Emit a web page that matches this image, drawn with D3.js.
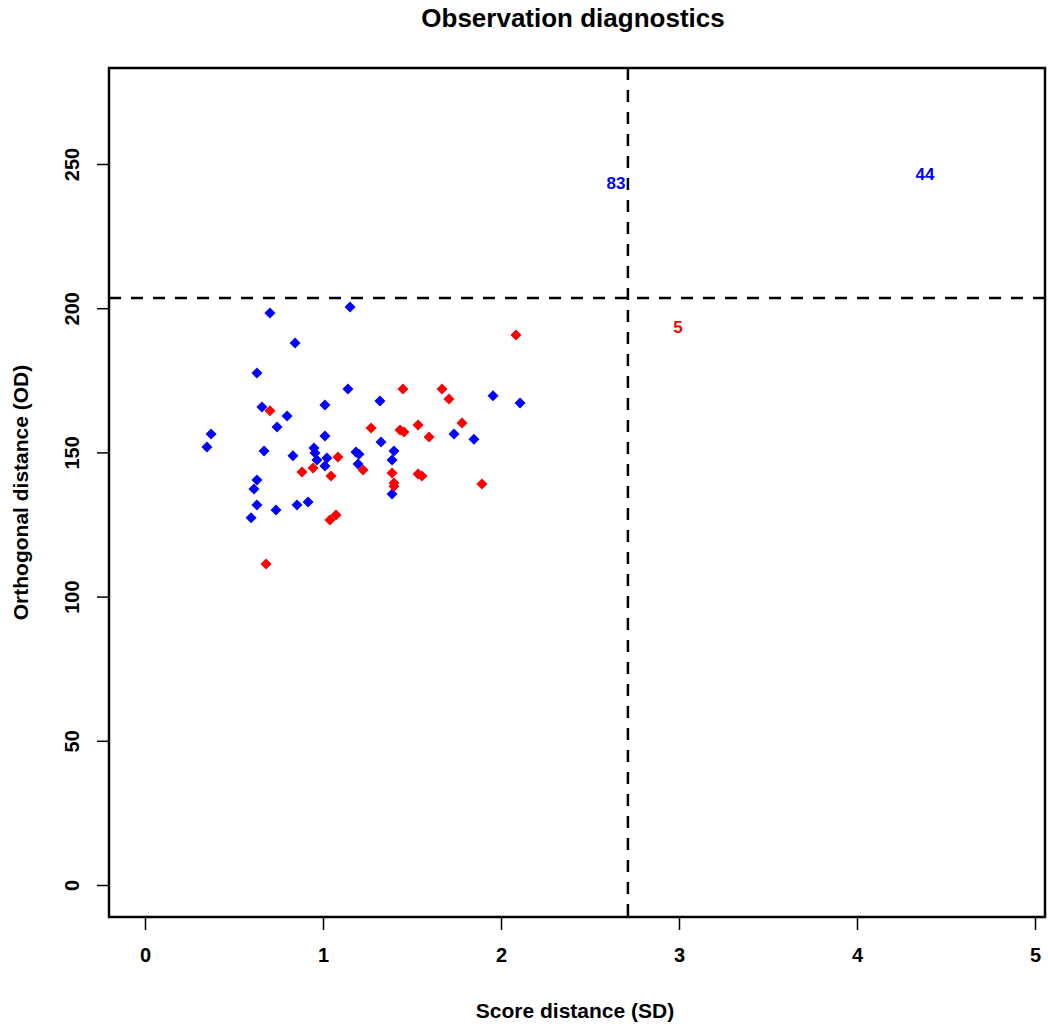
<!DOCTYPE html>
<html>
<head>
<meta charset="utf-8">
<script src="https://cdn.jsdelivr.net/npm/d3@7"></script>
<style>
  html, body { margin: 0; padding: 0; background: #fff; }
  svg { display: block; }
  text { font-family: "Liberation Sans", Arial, sans-serif; font-weight: bold; }
</style>
</head>
<body>
<div id="chart"></div>
<script>
// ---- data ----
const blueSD = [0.702,1.152,0.843,0.629,1.140,0.657,0.798,1.011,0.742,0.371,0.348,0.669,0.831,0.949,0.955,0.966,1.022,1.011,1.011,1.320,1.955,2.107,1.736,1.848,1.326,1.185,1.202,1.197,1.399,1.388,1.388,0.629,0.612,0.629,0.736,0.854,0.916,0.596];
const blueOD = [198.3,200.4,187.9,177.5,172.0,165.7,162.6,166.4,158.8,156.4,151.9,150.5,148.8,151.5,149.8,147.4,148.1,145.3,155.7,167.8,169.6,167.1,156.4,154.6,153.6,150.1,149.4,146.0,150.5,147.4,135.6,140.4,137.3,131.8,130.0,131.8,132.8,127.3];
const redSD = [2.084,1.449,1.669,1.708,1.270,1.433,1.455,1.534,1.781,1.596,0.702,1.084,0.882,0.944,1.045,1.225,1.388,1.534,1.556,1.399,1.399,1.893,1.039,1.073,0.680];
const redOD = [190.7,172.0,172.0,168.5,158.5,157.8,157.1,159.5,160.2,155.3,164.4,148.4,143.2,144.6,141.8,143.9,142.9,142.5,141.8,139.4,138.3,139.0,126.6,128.3,111.3];
const labelIds = ["83","44","5"];
const labelSD = [2.646,4.382,2.994];
const labelOD = [243.4,246.5,193.5];
const labelGroup = ["blue","blue","red"];
const sdCutoff = 2.713;
const odCutoff = 203.5;
const xTicks = [0,1,2,3,4,5];
const yTicks = [0,50,100,150,200,250];
const title = "Observation diagnostics";
const xTitle = "Score distance (SD)";
const yTitle = "Orthogonal distance (OD)";

// ---- layout ----
const W = 1048, H = 1027;
const box = {left: 109, right: 1045, top: 68, bottom: 917};
const x = d3.scaleLinear().domain([0,5]).range([145,1035]);
const y = d3.scaleLinear().domain([0,250]).range([885,164]);
const colors = {blue: "#0000FF", red: "#FF0000"};
const FONT = "Liberation Sans, Arial, sans-serif";

const svg = d3.select("#chart").append("svg").attr("width", W).attr("height", H);

// title
svg.append("text").attr("x", 573).attr("y", 27).attr("text-anchor","middle")
  .attr("font-size", 26).text(title);

// cutoff lines
svg.append("line").attr("x1", x(sdCutoff)).attr("x2", x(sdCutoff))
  .attr("y1", box.top).attr("y2", box.bottom)
  .attr("stroke","#000").attr("stroke-width",2.5).attr("stroke-dasharray","12,10");
svg.append("line").attr("x1", box.left).attr("x2", box.right)
  .attr("y1", y(odCutoff)).attr("y2", y(odCutoff))
  .attr("stroke","#000").attr("stroke-width",2.5).attr("stroke-dasharray","12,10");

// points
const diamond = (cx, cy, r) => `M${cx},${cy-r}L${cx+r},${cy}L${cx},${cy+r}L${cx-r},${cy}Z`;
const blue = blueSD.map((v,i)=>({sd:v, od:blueOD[i]}));
const red = redSD.map((v,i)=>({sd:v, od:redOD[i]}));
svg.append("g").selectAll("path").data(blue).join("path")
  .attr("d", d => diamond(x(d.sd), y(d.od), 5.5)).attr("fill", colors.blue);
svg.append("g").selectAll("path").data(red).join("path")
  .attr("d", d => diamond(x(d.sd), y(d.od), 5.5)).attr("fill", colors.red);

// labels
svg.append("g").selectAll("text").data(labelIds).join("text")
  .attr("x", (d,i)=>x(labelSD[i])).attr("y", (d,i)=>y(labelOD[i]))
  .attr("dy", "0.36em").attr("text-anchor","middle").attr("font-size", 17)
  .attr("fill", (d,i)=>colors[labelGroup[i]]).text(d=>d);

// box
svg.append("rect").attr("x", box.left).attr("y", box.top)
  .attr("width", box.right-box.left).attr("height", box.bottom-box.top)
  .attr("fill","none").attr("stroke","#000").attr("stroke-width",2.5);

// x axis
const xAxis = svg.append("g").attr("transform", `translate(0,${box.bottom})`)
  .call(d3.axisBottom(x).tickValues(xTicks).tickSize(13).tickPadding(18).tickFormat(d3.format("d")));
xAxis.select(".domain").remove();
xAxis.selectAll(".tick line").attr("stroke","#000").attr("stroke-width",1.5);
xAxis.selectAll(".tick text").attr("font-size",20).attr("font-family",FONT).attr("font-weight","bold").attr("fill","#000");

// y axis
const yAxis = svg.append("g").attr("transform", `translate(${box.left},0)`)
  .call(d3.axisLeft(y).tickValues(yTicks).tickSize(12).tickFormat(d3.format("d")));
yAxis.select(".domain").remove();
yAxis.selectAll(".tick line").attr("stroke","#000").attr("stroke-width",1.5);
yAxis.selectAll(".tick text")
  .attr("font-size",20).attr("font-family",FONT).attr("font-weight","bold").attr("fill","#000")
  .attr("x", null).attr("dy", null)
  .attr("text-anchor","middle")
  .attr("transform","translate(-37,0) rotate(-90)")
  .attr("y", 7);

// axis titles
svg.append("text").attr("x", 575).attr("y", 1018).attr("text-anchor","middle")
  .attr("font-size", 21).text(xTitle);
svg.append("text").attr("transform", `translate(28,${(box.top+box.bottom)/2}) rotate(-90)`)
  .attr("text-anchor","middle").attr("font-size", 21).text(yTitle);
</script>
</body>
</html>
